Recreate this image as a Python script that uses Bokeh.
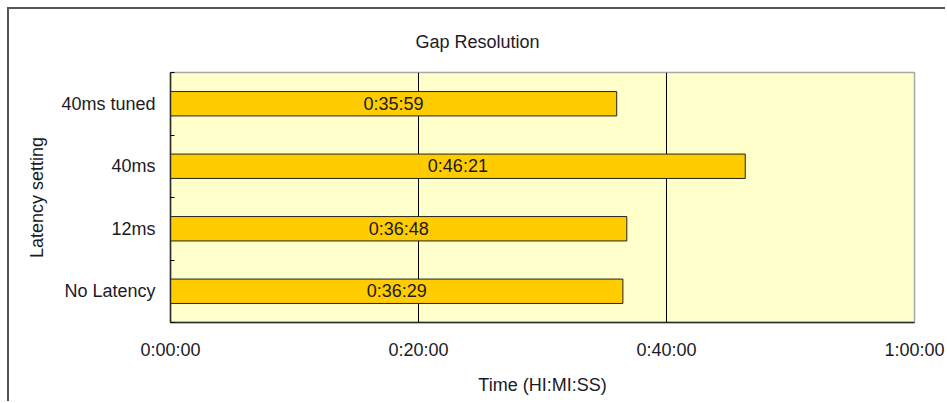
from bokeh.plotting import figure
from bokeh.models import Range1d, FixedTicker, ColumnDataSource
from bokeh.core.properties import value
from bokeh.embed import file_html
from bokeh.resources import INLINE

# Latency settings, bottom to top, and the time each took to resolve the gap
categories = ["No Latency", "12ms", "40ms", "40ms tuned"]
durations = ["0:36:29", "0:36:48", "0:46:21", "0:35:59"]

x_ticks = [0, 1200, 2400, 3600]
x_tick_labels = ["0:00:00", "0:20:00", "0:40:00", "1:00:00"]


def to_seconds(hms):
    h, m, s = (int(v) for v in hms.split(":"))
    return h * 3600 + m * 60 + s


seconds = [to_seconds(d) for d in durations]
y_pos = [i + 0.5 for i in range(len(categories))]

src = ColumnDataSource(dict(
    y=y_pos,
    right=seconds,
    mid=[s / 2 for s in seconds],
    label=durations,
))

FONT = "Liberation Sans"
TXT = "#1b1b24"

p = figure(
    width=938, height=394,
    x_range=Range1d(0, 3600), y_range=Range1d(0, 4),
    output_backend="svg", toolbar_location=None,
    min_border_left=161, min_border_right=33,
    min_border_top=62, min_border_bottom=81,
    background_fill_color="#FFFFCC",
    border_fill_color="white",
)
p.margin = (7, 0, 0, 7)
p.styles = {"border-top": "2px solid #555555", "border-left": "2px solid #555555"}

p.title.text = "Gap Resolution"
p.title.text_font = FONT
p.title.text_font_size = "18px"
p.title.text_font_style = "normal"
p.title.text_color = TXT
p.title.align = "left"
p.title.offset = 245
p.title.standoff = 41

p.outline_line_color = "#a8a8a8"
p.outline_line_width = 1.5

# bars and their value labels
p.hbar(y="y", left=0, right="right", height=0.39, source=src,
       fill_color="#FFCC00", line_color="#222222", line_width=1)
p.text(x="mid", y="y", text="label", source=src,
       text_font=value(FONT), text_font_size="18px", text_color=TXT,
       text_align="center", text_baseline="middle")

# x axis: fixed H:MM:SS ticks
xa = p.xaxis[0]
xa.ticker = FixedTicker(ticks=x_ticks, minor_ticks=[])
xa.major_label_overrides = {t: l for t, l in zip(x_ticks, x_tick_labels)}
xa.major_tick_in = 0
xa.major_tick_out = 0
xa.major_label_standoff = 17
xa.axis_label = "Time (HI:MI:SS)"
xa.axis_label_standoff = 12

# y axis: category names at band centres, short inner ticks at band edges
ya = p.yaxis[0]
ya.ticker = FixedTicker(ticks=y_pos, minor_ticks=list(range(len(categories) + 1)))
ya.major_label_overrides = {y: c for y, c in zip(y_pos, categories)}
ya.major_tick_in = 0
ya.major_tick_out = 0
ya.minor_tick_in = 4
ya.minor_tick_out = 0
ya.minor_tick_line_color = "black"
ya.major_label_standoff = 15
ya.axis_label = "Latency setting"
ya.axis_label_standoff = 11

for ax in (xa, ya):
    ax.axis_line_color = "#2a2a2a"
    ax.axis_line_width = 1.5
    ax.major_label_text_font = FONT
    ax.major_label_text_font_size = "18px"
    ax.major_label_text_color = TXT
    ax.axis_label_text_font = FONT
    ax.axis_label_text_font_size = "18px"
    ax.axis_label_text_font_style = "normal"
    ax.axis_label_text_color = TXT

p.xgrid.ticker = FixedTicker(ticks=x_ticks[1:-1])
p.xgrid.grid_line_color = "black"
p.xgrid.grid_line_width = 1
p.ygrid.grid_line_color = None

open("out.html", "w").write(file_html(p, INLINE))
